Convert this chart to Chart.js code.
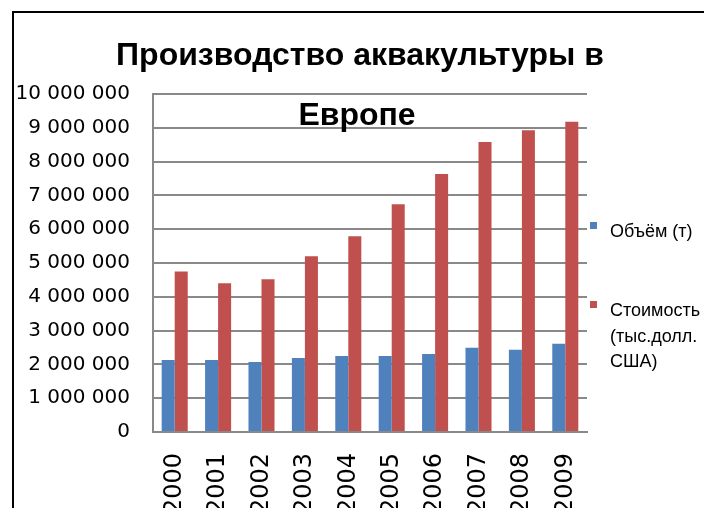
<!DOCTYPE html>
<html>
<head>
<meta charset="utf-8">
<script src="https://cdn.jsdelivr.net/npm/chart.js@4.4.1/dist/chart.umd.min.js"></script>
<style>
  html, body { margin: 0; padding: 0; background: #fff; overflow: hidden; }
  #frame { position: absolute; left: 12px; top: 11px; width: 760px; height: 560px; border: 2px solid #000; }
  #chart { position: absolute; left: 0; top: 0; }
</style>
</head>
<body>
<div id="frame"></div>
<canvas id="chart" width="704" height="508"></canvas>
<script>
// chart data
const years = ["2000", "2001", "2002", "2003", "2004", "2005", "2006", "2007", "2008", "2009"];
const volume = [2130000, 2130000, 2070000, 2190000, 2250000, 2250000, 2310000, 2490000, 2430000, 2610000];
const value = [4750000, 4400000, 4520000, 5200000, 5790000, 6740000, 7630000, 8580000, 8930000, 9180000];
const seriesNames = ["Объём (т)", "Стоимость (тыс.долл. США)"];
const legendLines = [["Объём (т)"], ["Стоимость", "(тыс.долл.", "США)"]];
const titleLines = ["Производство аквакультуры в", "Европе"];
const seriesColors = ["#4F81BD", "#C0504D"];
const gridColor = "#898989";

function fmt(v) {
  return String(v).replace(/\B(?=(\d{3})+(?!\d))/g, " ");
}

// title and legend are drawn by hand, they overlap the plot like in the original
const overlay = {
  id: "overlay",
  afterDraw(chart) {
    const ctx = chart.ctx;
    ctx.save();
    ctx.fillStyle = "#000";
    ctx.textAlign = "center";
    ctx.textBaseline = "alphabetic";
    ctx.font = "bold 32px 'Liberation Sans'";
    ctx.fillText(titleLines[0], 360, 65);
    ctx.fillText(titleLines[1], 357, 125);

    // legend
    const x0 = chart.chartArea.right + 3;
    const tops = [222, 301];
    ctx.textAlign = "left";
    ctx.font = "18px 'Liberation Sans'";
    legendLines.forEach((lines, i) => {
      ctx.fillStyle = chart.data.datasets[i].backgroundColor;
      ctx.fillRect(x0, tops[i], 7, 7);
      ctx.fillStyle = "#000";
      lines.forEach((line, j) => {
        ctx.fillText(line, x0 + 20, tops[i] + 15 + j * 25.5);
      });
    });
    ctx.restore();
  }
};

Chart.defaults.font.family = "'DejaVu Sans'";
Chart.defaults.color = "#000";

const ctx = document.getElementById("chart");
new Chart(ctx, {
  type: "bar",
  data: {
    labels: years,
    datasets: [
      {
        label: seriesNames[0],
        data: volume,
        backgroundColor: seriesColors[0],
        borderWidth: 0,
      },
      {
        label: seriesNames[1],
        data: value,
        backgroundColor: seriesColors[1],
        borderWidth: 0,
      },
    ],
  },
  options: {
    responsive: false,
    animation: false,
    devicePixelRatio: 1,
    layout: {
      padding: { top: 94, right: 117, left: 0, bottom: 0 },
    },
    datasets: {
      bar: { categoryPercentage: 0.6, barPercentage: 1.0 },
    },
    plugins: {
      legend: { display: false },
      title: { display: false },
      tooltip: { enabled: false },
    },
    scales: {
      x: {
        grid: { display: false, drawTicks: false },
        border: { display: true, color: gridColor, width: 2 },
        ticks: {
          minRotation: 90,
          maxRotation: 90,
          padding: 21,
          font: { size: 24 },
          color: "#000",
        },
        afterFit: (scale) => { scale.height = 76; },
      },
      y: {
        min: 0,
        max: 10000000,
        grid: { color: gridColor, lineWidth: 2, drawTicks: false },
        border: { display: true, color: gridColor, width: 2 },
        ticks: {
          stepSize: 1000000,
          padding: 23,
          font: { size: 20 },
          color: "#000",
          callback: (v) => fmt(v),
        },
        afterFit: (scale) => { scale.width = 153; },
      },
    },
  },
  plugins: [overlay],
});
</script>
</body>
</html>
